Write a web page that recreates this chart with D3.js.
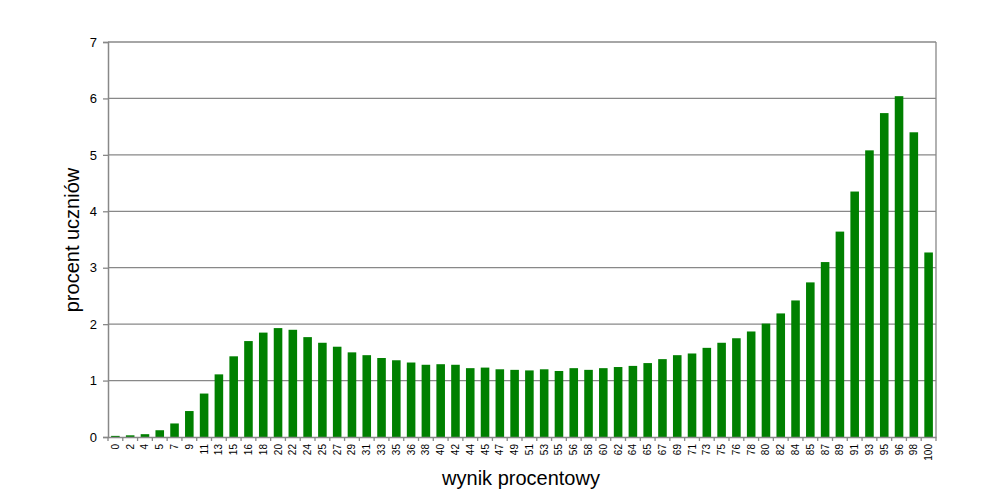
<!DOCTYPE html>
<html><head><meta charset="utf-8">
<script src="https://cdn.jsdelivr.net/npm/d3@7"></script>
<style>body{margin:0;background:#fff}svg{display:block}text{font-family:"Liberation Sans",Arial,sans-serif;fill:#000}</style>
</head><body><svg id="c" width="1003" height="504"></svg>
<script>
const categories=["0","2","4","5","7","9","11","13","15","16","18","20","22","24","25","27","29","31","33","35","36","38","40","42","44","45","47","49","51","53","55","56","58","60","62","64","65","67","69","71","73","75","76","78","80","82","84","85","87","89","91","93","95","96","98","100"];
const values=[0.02,0.03,0.05,0.12,0.24,0.46,0.77,1.11,1.43,1.70,1.85,1.93,1.90,1.77,1.67,1.60,1.50,1.45,1.40,1.36,1.32,1.28,1.29,1.28,1.22,1.23,1.20,1.19,1.18,1.20,1.17,1.22,1.19,1.22,1.24,1.26,1.31,1.38,1.45,1.48,1.58,1.67,1.75,1.87,2.01,2.19,2.42,2.74,3.10,3.64,4.35,5.08,5.74,6.04,5.40,3.27];
const yTicks=[0,1,2,3,4,5,6,7];
const xTitle="wynik procentowy", yTitle="procent uczniów";

const svg=d3.select("#c");
const L=108,R=936,T=42,B=437;
const x=d3.scaleBand().domain(categories).range([L,R]).paddingInner(0.42).paddingOuter(0.21);
const y=d3.scaleLinear().domain([0,7]).range([B,T]);
const grey="#888";

// gridlines
svg.append("g").selectAll("line").data(yTicks.filter(d=>d>0)).join("line")
 .attr("x1",L).attr("x2",R).attr("y1",d=>y(d)).attr("y2",d=>y(d))
 .attr("stroke",grey).attr("stroke-width",1.3);
// right border
svg.append("line").attr("x1",R).attr("x2",R).attr("y1",T).attr("y2",B).attr("stroke",grey).attr("stroke-width",1.3);

// bars
svg.append("g").selectAll("rect").data(values).join("rect")
 .attr("x",(d,i)=>x(categories[i])).attr("width",x.bandwidth())
 .attr("y",d=>y(d)).attr("height",d=>B-y(d)).attr("fill","#008000");

// y axis
const ya=svg.append("g").attr("transform",`translate(${L},0)`)
 .call(d3.axisLeft(y).tickValues(yTicks).tickSize(5).tickPadding(6).tickFormat(d3.format("d")));
ya.select(".domain").attr("stroke",grey).attr("stroke-width",1.5);
ya.selectAll(".tick line").attr("stroke",grey).attr("stroke-width",1.3);
ya.selectAll("text").attr("font-size",13).attr("font-family","Liberation Sans, Arial, sans-serif");

// x axis
const xa=svg.append("g").attr("transform",`translate(0,${B})`)
 .call(d3.axisBottom(x).tickSize(0).tickPadding(0));
xa.select(".domain").attr("stroke",grey).attr("stroke-width",1.5);
xa.selectAll(".tick text").attr("font-size",10).attr("font-family","Liberation Sans, Arial, sans-serif")
 .attr("transform","rotate(-90)").attr("text-anchor","end").attr("dy","0.35em").attr("x",-7).attr("y",0);
// ticks between bands
const bounds=d3.range(categories.length+1).map(i=>L+i*(R-L)/categories.length);
svg.append("g").selectAll("line").data(bounds).join("line")
 .attr("x1",d=>d).attr("x2",d=>d).attr("y1",B).attr("y2",B+4).attr("stroke",grey).attr("stroke-width",1.3);

// titles
svg.append("text").attr("x",521).attr("y",485).attr("text-anchor","middle").attr("font-size",20).text(xTitle);
svg.append("text").attr("transform","translate(79,240) rotate(-90)").attr("text-anchor","middle").attr("font-size",20).text(yTitle);
</script></body></html>
